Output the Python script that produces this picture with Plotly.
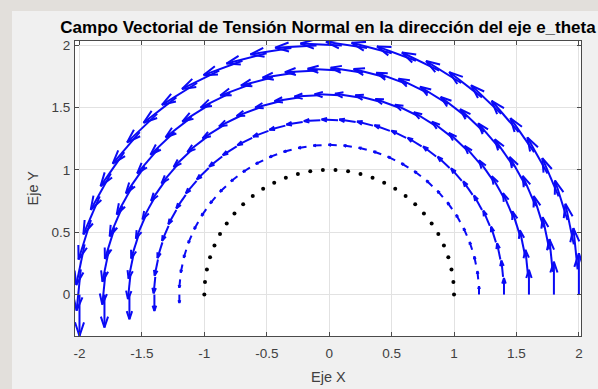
import numpy as np
import plotly.graph_objects as go

# Polar sampling of the half-annulus
n_angles = 32
ring_radii = [1.2, 1.4, 1.6, 1.8, 2.0]
# scaled arrow length drawn on each ring (tangential e_theta component)
ring_lengths = [0.066, 0.132, 0.198, 0.264, 0.332]
inner_radius = 1.0

x_ticks = [-2, -1.5, -1, -0.5, 0, 0.5, 1, 1.5, 2]
x_tick_text = ["-2", "-1.5", "-1", "-0.5", "0", "0.5", "1", "1.5", "2"]
y_ticks = [0, 0.5, 1, 1.5, 2]
y_tick_text = ["0", "0.5", "1", "1.5", "2"]

title_text = "Campo Vectorial de Tensión Normal en la dirección del eje e_theta"

theta = np.linspace(0, np.pi, n_angles)
ALPHA, BETA = 0.33, 0.33  # arrow head size / width factors


def quiver_path(r, length):
    xs, ys = [], []
    for t in theta:
        x0, y0 = r * np.cos(t), r * np.sin(t)
        u, v = -length * np.sin(t), length * np.cos(t)
        xt, yt = x0 + u, y0 + v
        h1x = xt - ALPHA * (u + BETA * v)
        h1y = yt - ALPHA * (v - BETA * u)
        h2x = xt - ALPHA * (u - BETA * v)
        h2y = yt - ALPHA * (v + BETA * u)
        xs += [x0, xt, None, h1x, xt, h2x, None]
        ys += [y0, yt, None, h1y, yt, h2y, None]
    return xs, ys


fig = go.Figure()

fig.add_trace(go.Scatter(
    x=inner_radius * np.cos(theta), y=inner_radius * np.sin(theta),
    mode="markers", marker=dict(color="black", size=4),
    hoverinfo="skip", showlegend=False,
))

for r, L in zip(ring_radii, ring_lengths):
    xs, ys = quiver_path(r, L)
    fig.add_trace(go.Scatter(
        x=xs, y=ys, mode="lines",
        line=dict(color="#0a0af5", width=2),
        hoverinfo="skip", showlegend=False,
    ))

W, H = 598, 389
ml, mr, mt, mb = 75, 17, 41, 53
pw, ph = W - ml - mr, H - mt - mb
FONT = "Liberation Sans, Arial, sans-serif"

axis_common = dict(
    showgrid=True, gridcolor="#e2e2e2", gridwidth=1,
    zeroline=False, showline=True, linecolor="#4a4a4a", linewidth=1,
    mirror="ticks", ticks="inside", ticklen=4, tickcolor="#4a4a4a",
    tickfont=dict(family=FONT, size=13.5, color="#404040"),
)

fig.update_layout(
    width=W, height=H,
    margin=dict(l=ml, r=mr, t=mt, b=mb),
    paper_bgcolor="#f0f0f0", plot_bgcolor="white",
    xaxis=dict(range=[-2.036, 2.017], tickvals=x_ticks, ticktext=x_tick_text,
               ticklabelstandoff=5, **axis_common),
    yaxis=dict(range=[-0.332, 2.034], tickvals=y_ticks, ticktext=y_tick_text,
               ticklabelstandoff=1, **axis_common),
    title=dict(
        text=f"<b>{title_text}</b>",
        font=dict(family=FONT, size=17, color="black"),
        x=0.5, xref="paper", xanchor="center",
        y=1 - 27 / H, yref="container", yanchor="middle",
    ),
    annotations=[
        dict(text="Eje X", xref="paper", yref="paper", x=0.5, y=-(377 - mt - ph) / ph,
             xanchor="center", yanchor="middle", showarrow=False,
             font=dict(family=FONT, size=14.5, color="#404040")),
        dict(text="Eje Y", xref="paper", yref="paper", x=-(ml - 32) / pw, y=0.5,
             xanchor="center", yanchor="middle", showarrow=False, textangle=-90,
             font=dict(family=FONT, size=14.5, color="#404040")),
    ],
    shapes=[
        # darker window frame along the top and left edges
        dict(type="rect", xref="paper", yref="paper", layer="below", line=dict(width=0),
             fillcolor="#e2dfdb", x0=-ml / pw, x1=1 + mr / pw,
             y0=1 + (mt - 11) / ph, y1=1 + mt / ph),
        dict(type="rect", xref="paper", yref="paper", layer="below", line=dict(width=0),
             fillcolor="#e2dfdb", x0=-ml / pw, x1=-(ml - 12) / pw,
             y0=-mb / ph, y1=1 + mt / ph),
    ],
)

fig.write_html("out.html")
